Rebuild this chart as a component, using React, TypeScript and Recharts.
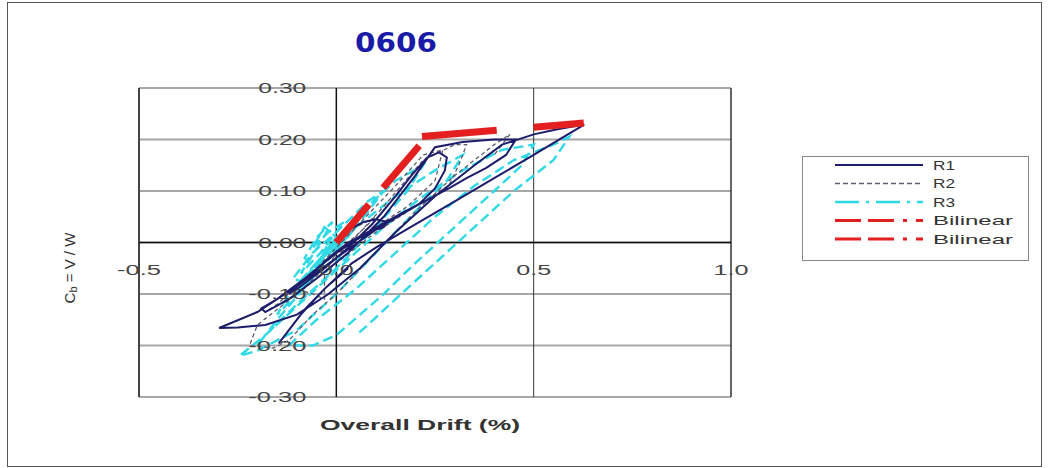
import React from 'react';
import { LineChart, Line, XAxis, YAxis, CartesianGrid, ReferenceLine } from 'recharts';

// hysteresis traces, [drift %, Cb]
const R1: [number, number][] = [
  [0, 0], [0.03, 0.025], [0.07, 0.04], [0.1, 0.045], [0.13, 0.04], [0.12, 0.03], [0.08, 0.02], [0.03, 0.0],
  [-0.02, -0.03], [-0.06, -0.06], [-0.1, -0.085], [-0.12, -0.1], [-0.09, -0.085], [-0.03, -0.05], [0.03, -0.01],
  [0.09, 0.035], [0.15, 0.09], [0.19, 0.13], [0.23, 0.165], [0.26, 0.175], [0.28, 0.165], [0.275, 0.14],
  [0.25, 0.105], [0.21, 0.075], [0.15, 0.05], [0.08, 0.02], [0.0, -0.02], [-0.08, -0.07], [-0.15, -0.11],
  [-0.19, -0.128], [-0.18, -0.135], [-0.12, -0.11], [-0.05, -0.07], [0.03, -0.02], [0.12, 0.05], [0.2, 0.13],
  [0.25, 0.185], [0.32, 0.195], [0.4, 0.2], [0.455, 0.2], [0.43, 0.17], [0.38, 0.145], [0.33, 0.125],
  [0.285, 0.105], [0.2, 0.07], [0.1, 0.025], [0.0, -0.03], [-0.1, -0.085], [-0.2, -0.135], [-0.297, -0.166],
  [-0.25, -0.165], [-0.18, -0.16], [-0.1, -0.14], [-0.02, -0.1], [0.06, -0.05], [0.15, 0.02], [0.25, 0.09],
  [0.35, 0.15], [0.42, 0.19], [0.5, 0.21], [0.56, 0.22], [0.628, 0.229], [0.5, 0.17], [0.4, 0.125],
  [0.3, 0.08], [0.2, 0.035], [0.1, -0.01], [0.04, -0.04], [-0.03, -0.09], [-0.09, -0.14], [-0.146, -0.196],
  [-0.13, -0.18], [-0.08, -0.13], [-0.03, -0.09], [0.03, -0.05],
];

const R2: [number, number][] = [
  [0, 0], [0.05, 0.03], [0.1, 0.05], [0.06, 0.02], [0, -0.02], [-0.03, -0.06], [-0.03, -0.11], [-0.06, -0.1],
  [-0.1, -0.09], [-0.05, -0.05], [0.05, 0.03], [0.15, 0.11], [0.22, 0.17], [0.27, 0.18], [0.25, 0.12],
  [0.18, 0.07], [0.08, 0.02], [-0.05, -0.05], [-0.15, -0.12], [-0.18, -0.135], [-0.1, -0.1], [0, -0.03],
  [0.12, 0.07], [0.22, 0.16], [0.3, 0.19], [0.33, 0.19], [0.31, 0.15], [0.285, 0.11], [0.2, 0.07],
  [0.1, 0.02], [0, -0.04], [-0.1, -0.1], [-0.2, -0.16], [-0.22, -0.2], [-0.16, -0.205], [-0.12, -0.19],
  [-0.06, -0.14], [0, -0.1], [0.1, -0.02], [0.2, 0.06], [0.3, 0.13], [0.4, 0.19], [0.44, 0.21], [0.4, 0.17],
];

const R3: [number, number][] = [
  [0, 0], [0.03, 0.02], [0.0, 0.0], [-0.03, -0.02], [0.0, 0.01], [0.04, 0.03], [0.01, 0.0], [-0.05, -0.04],
  [-0.02, -0.01], [0.03, 0.03], [0.06, 0.05], [0.02, 0.01], [-0.04, -0.04], [-0.08, -0.07], [-0.05, -0.04],
  [0.0, 0.0], [0.05, 0.05], [0.02, 0.02], [-0.06, -0.05], [-0.1, -0.1], [-0.07, -0.06], [0.0, 0.01],
  [-0.03, 0.03], [-0.06, -0.01], [-0.02, 0.02], [0.02, 0.04], [-0.04, -0.02], [-0.09, -0.06], [-0.04, 0.0],
  [-0.01, 0.04], [-0.05, 0.01], [-0.08, -0.03], [-0.03, -0.06], [0.01, -0.03], [-0.02, 0.0], [-0.07, -0.08],
  [-0.11, -0.07], [-0.06, -0.02], [0.0, 0.02],
  [0.08, 0.08], [0.12, 0.1], [0.05, 0.03], [-0.02, -0.03], [-0.1, -0.1], [-0.15, -0.14], [-0.12, -0.1],
  [-0.04, -0.03], [0.05, 0.05], [0.15, 0.12], [0.22, 0.15], [0.18, 0.1], [0.1, 0.03], [0.0, -0.05],
  [-0.1, -0.12], [-0.18, -0.18], [-0.2, -0.2], [-0.15, -0.15], [-0.05, -0.06], [0.05, 0.03], [0.15, 0.09],
  [0.25, 0.14], [0.32, 0.17], [0.28, 0.12], [0.2, 0.06], [0.1, -0.02], [0.0, -0.1], [-0.1, -0.17],
  [-0.2, -0.21], [-0.245, -0.22], [-0.18, -0.18], [-0.08, -0.11], [0.02, -0.04], [0.12, 0.03], [0.22, 0.09],
  [0.32, 0.14], [0.42, 0.18], [0.5, 0.19], [0.47, 0.15], [0.4, 0.1], [0.3, 0.03], [0.2, -0.04], [0.12, -0.1],
  [0.06, -0.14], [0.0, -0.18], [-0.06, -0.2], [-0.12, -0.2], [-0.05, -0.15], [0.05, -0.09], [0.15, -0.02],
  [0.25, 0.05], [0.35, 0.11], [0.45, 0.16], [0.55, 0.19], [0.59, 0.205], [0.55, 0.16], [0.45, 0.1],
  [0.35, 0.03], [0.25, -0.04], [0.15, -0.11], [0.08, -0.16], [0.05, -0.18],
];

const BILINEAR_A: [number, number][] = [[0, 0], [0.21, 0.188]];
const BILINEAR_B: [number, number][] = [[0.217, 0.206], [0.627, 0.232]];

const X_TICKS = [-0.5, 0, 0.5, 1.0];
const Y_TICKS = [-0.3, -0.2, -0.1, 0, 0.1, 0.2, 0.3];
const X_DOMAIN: [number, number] = [-0.5, 1.0];
const Y_DOMAIN: [number, number] = [-0.3, 0.3];

const PLOT = { left: 139, top: 88, width: 592, height: 309 };
const AXIS_W = 30;
const AXIS_H = 20;
const ZERO_X = PLOT.left + (PLOT.width * (0 - X_DOMAIN[0])) / (X_DOMAIN[1] - X_DOMAIN[0]);
const ZERO_Y = PLOT.top + (PLOT.height * Y_DOMAIN[1]) / (Y_DOMAIN[1] - Y_DOMAIN[0]);

const COLORS = {
  r1: '#1d1d6b',
  r2: '#5c5c6e',
  r3: '#2fd9e6',
  bilinear: '#e3201f',
  grid: '#a6a6a6',
  axis: '#111111',
  text: '#444444',
  title: '#1a1aa8',
};

const FONT = '"Liberation Sans", Arial, sans-serif';

const pts = (a: [number, number][]) => a.map(([x, y]) => ({ x, y }));

const XTick = (props: any) => {
  const { x, payload } = props;
  const label = Number(payload.value).toFixed(1);
  return (
    <text x={x} y={ZERO_Y + 27} textAnchor="middle" dominantBaseline="central" fontFamily={FONT}
      fontSize={14} fill={COLORS.text} textLength={label.length > 3 ? 44 : 35} lengthAdjust="spacingAndGlyphs">
      {label}
    </text>
  );
};

const YTick = (props: any) => {
  const { y, payload } = props;
  const label = Number(payload.value).toFixed(2);
  return (
    <text x={ZERO_X - 30} y={y} textAnchor="end" dominantBaseline="central" fontFamily={FONT}
      fontSize={14} fill={COLORS.text} textLength={label.length > 4 ? 58 : 48} lengthAdjust="spacingAndGlyphs">
      {label}
    </text>
  );
};

const LEGEND_ROWS = [
  { name: 'R1', color: COLORS.r1, dash: undefined, width: 2 },
  { name: 'R2', color: COLORS.r2, dash: '5 3', width: 1.5 },
  { name: 'R3', color: COLORS.r3, dash: '24 7 3 7', width: 2.5 },
  { name: 'Bilinear', color: COLORS.bilinear, dash: '26 7 26 9 4 9', width: 3 },
  { name: 'Bilinear', color: COLORS.bilinear, dash: '26 7 26 9 4 9', width: 3 },
];

const Backdrop = () => (
  <svg width={1048} height={468} style={{ position: 'absolute', left: 0, top: 0 }}>
    <rect x={7.5} y={2.5} width={1034} height={464} fill="#fff" stroke="#555" strokeWidth={1} />
    <text x={396} y={43} textAnchor="middle" dominantBaseline="central" fontFamily='"DejaVu Sans", sans-serif'
      fontWeight="bold" fontSize={26} fill={COLORS.title} textLength={82} lengthAdjust="spacingAndGlyphs">
      0606
    </text>
    <text x={420} y={425} textAnchor="middle" dominantBaseline="central" fontFamily={FONT} fontWeight="bold"
      fontSize={14} fill="#333" textLength={200} lengthAdjust="spacingAndGlyphs">
      Overall Drift (%)
    </text>
    <text transform="rotate(-90 69 268)" x={69} y={268} textAnchor="middle" dominantBaseline="central"
      fontFamily={FONT} fontSize={15} fill="#333">
      C<tspan dy={4} fontSize={11}>b</tspan><tspan dy={-4}> = V / W</tspan>
    </text>
    <rect x={802.5} y={156.5} width={226} height={104} fill="#fff" stroke="#888" strokeWidth={1} />
    {LEGEND_ROWS.map((r, i) => {
      const cy = 165 + i * 18.5;
      return (
        <g key={i}>
          <line x1={835} x2={923} y1={cy} y2={cy} stroke={r.color} strokeWidth={r.width} strokeDasharray={r.dash} />
          <text x={933} y={cy} dominantBaseline="central" fontFamily={FONT} fontSize={13} fill="#333"
            textLength={r.name.length > 2 ? 80 : 22} lengthAdjust="spacingAndGlyphs">
            {r.name}
          </text>
        </g>
      );
    })}
  </svg>
);

export default function App() {
  return (
    <div style={{ position: 'fixed', left: 0, top: 0, width: 1048, height: 468, background: '#fff' }}>
      <Backdrop />
      <div style={{ position: 'absolute', left: 0, top: 0 }}>
        <LineChart
          width={1048}
          height={468}
          margin={{
            top: PLOT.top,
            left: PLOT.left - AXIS_W,
            right: 1048 - PLOT.left - PLOT.width,
            bottom: 468 - PLOT.top - PLOT.height - AXIS_H,
          }}
        >
          <CartesianGrid vertical={false} stroke={COLORS.grid} strokeWidth={2} />
          <XAxis type="number" dataKey="x" domain={X_DOMAIN} ticks={X_TICKS} height={AXIS_H}
            axisLine={false} tickLine={false} tick={XTick} allowDataOverflow interval={0} />
          <YAxis type="number" dataKey="y" domain={Y_DOMAIN} ticks={Y_TICKS} width={AXIS_W}
            axisLine={false} tickLine={false} tick={YTick} allowDataOverflow interval={0} />
          <ReferenceLine x={-0.5} stroke="#444" strokeWidth={2} />
          <ReferenceLine x={0.5} stroke="#333" strokeWidth={1} />
          <ReferenceLine x={1.0} stroke="#333" strokeWidth={1.5} />
          <ReferenceLine x={0} stroke={COLORS.axis} strokeWidth={1.5} />
          <ReferenceLine y={0} stroke={COLORS.axis} strokeWidth={1.5} />
          <Line data={pts(R3)} dataKey="y" type="linear" stroke={COLORS.r3} strokeWidth={2.4}
            strokeDasharray="10 5" dot={false} isAnimationActive={false} />
          <Line data={pts(R2)} dataKey="y" type="linear" stroke={COLORS.r2} strokeWidth={1.3}
            strokeDasharray="4 3" dot={false} isAnimationActive={false} />
          <Line data={pts(R1)} dataKey="y" type="linear" stroke={COLORS.r1} strokeWidth={2}
            dot={false} isAnimationActive={false} />
          <Line data={pts(BILINEAR_A)} dataKey="y" type="linear" stroke={COLORS.bilinear} strokeWidth={7}
            strokeDasharray="50 22 56 20" dot={false} isAnimationActive={false} />
          <Line data={pts(BILINEAR_B)} dataKey="y" type="linear" stroke={COLORS.bilinear} strokeWidth={7}
            strokeDasharray="75 37 52 20" dot={false} isAnimationActive={false} />
        </LineChart>
      </div>
    </div>
  );
}
